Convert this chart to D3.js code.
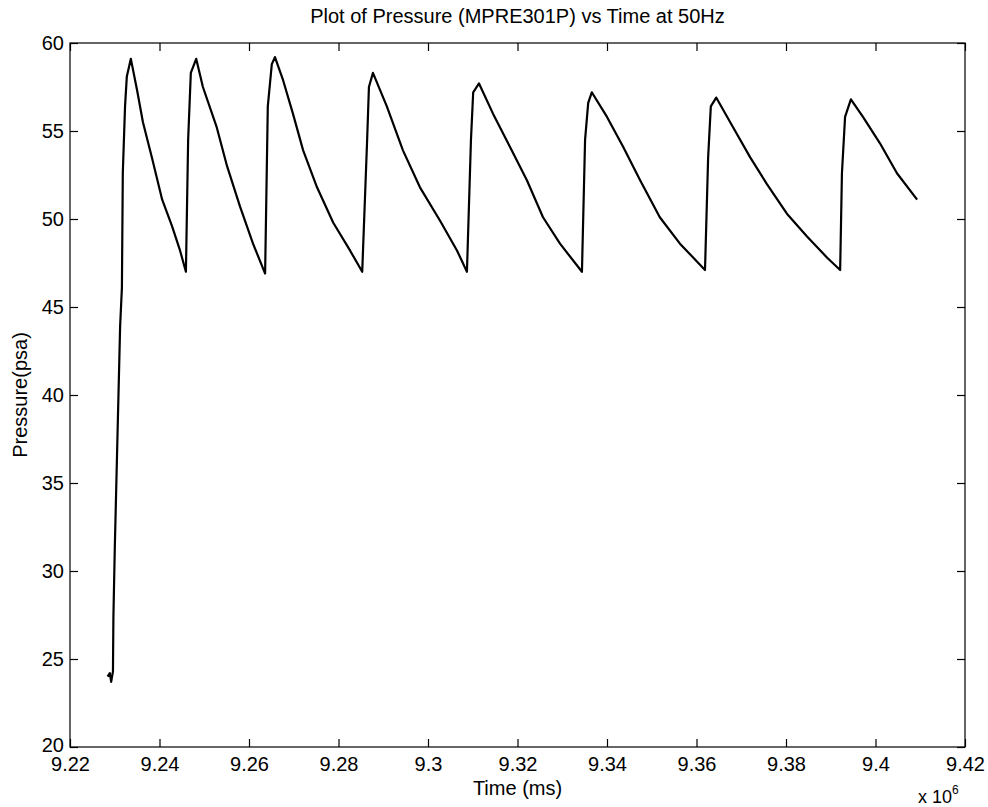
<!DOCTYPE html>
<html>
<head>
<meta charset="utf-8">
<script src="https://cdn.jsdelivr.net/npm/d3@7"></script>
<style>
  body { margin: 0; background: #fff; }
  svg text { font-family: "Liberation Sans", Arial, sans-serif; fill: #000; }
</style>
</head>
<body>
<svg id="chart" width="988" height="807"></svg>
<script>
// time in units of 10^6 ms, pressure in psa
const timeVals = [9.2284, 9.2289, 9.2292, 9.2296, 9.2297, 9.2300, 9.2312, 9.2316, 9.2318, 9.2323, 9.2327, 9.2336,
  9.2350, 9.2363, 9.2383, 9.2406, 9.2428, 9.2446, 9.2459,
  9.2464, 9.2470, 9.2482,
  9.2497, 9.2528, 9.2551, 9.2580, 9.2609, 9.2636,
  9.2642, 9.2651, 9.2658,
  9.2676, 9.2698, 9.2721, 9.2752, 9.2788, 9.2826, 9.2853,
  9.2864, 9.2868, 9.2877,
  9.2908, 9.2944, 9.2982, 9.3027, 9.3065, 9.3087,
  9.3096, 9.3101, 9.3114,
  9.3145, 9.3183, 9.3221, 9.3257, 9.3295, 9.3344,
  9.3351, 9.3358, 9.3366,
  9.3400, 9.3436, 9.3474, 9.3518, 9.3563, 9.3619,
  9.3626, 9.3632, 9.3644,
  9.3682, 9.3720, 9.3757, 9.3802, 9.3847, 9.3892, 9.3921,
  9.3925, 9.3932, 9.3945,
  9.3972, 9.4010, 9.4048, 9.4093]
const pressureVals = [24.0, 24.2, 23.7, 24.3, 27.4, 31.2, 43.9, 46.1, 52.6, 56.4, 58.1, 59.1,
  57.3, 55.5, 53.5, 51.1, 49.6, 48.2, 47.0,
  54.5, 58.3, 59.1,
  57.5, 55.2, 53.0, 50.7, 48.6, 46.9,
  56.4, 58.8, 59.2,
  57.9, 56.0, 53.9, 51.8, 49.8, 48.2, 47.0,
  54.5, 57.5, 58.3,
  56.4, 53.9, 51.8, 49.9, 48.2, 47.0,
  54.5, 57.2, 57.7,
  56.0, 54.1, 52.2, 50.1, 48.6, 47.0,
  54.5, 56.6, 57.2,
  55.8, 54.1, 52.2, 50.1, 48.6, 47.1,
  53.5, 56.4, 56.9,
  55.2, 53.5, 52.0, 50.3, 49.0, 47.8, 47.1,
  52.6, 55.8, 56.8,
  55.8, 54.3, 52.6, 51.1]

const xTicks = [9.22, 9.24, 9.26, 9.28, 9.3, 9.32, 9.34, 9.36, 9.38, 9.4, 9.42]
const yTicks = [20, 25, 30, 35, 40, 45, 50, 55, 60]

const titleText = "Plot of Pressure (MPRE301P) vs Time at 50Hz"
const xLabel = "Time (ms)"
const yLabel = "Pressure(psa)"

var svg = d3.select("#chart")
var m = { left: 70, right: 965, top: 43, bottom: 747 }

var x = d3.scaleLinear().domain([9.22, 9.42]).range([m.left, m.right])
var y = d3.scaleLinear().domain([20, 60]).range([m.bottom, m.top])

var data = timeVals.map((t, i) => ({ t: t, p: pressureVals[i] }))

// frame
svg.append("rect")
    .attr("x", m.left).attr("y", m.top)
    .attr("width", m.right - m.left).attr("height", m.bottom - m.top)
    .attr("fill", "none").attr("stroke", "#000").attr("stroke-width", 1.2)

// axes with inward ticks
var fmt = d => String(d)
svg.append("g")
    .attr("transform", "translate(0," + m.bottom + ")")
    .call(d3.axisBottom(x).tickValues(xTicks).tickFormat(fmt).tickSizeInner(-8).tickSizeOuter(0).tickPadding(9))
    .call(g => g.select(".domain").remove())
    .call(g => g.selectAll("text").attr("font-size", 20).attr("dy", "0.75em"))
svg.append("g")
    .attr("transform", "translate(0," + m.top + ")")
    .call(d3.axisTop(x).tickValues(xTicks).tickFormat("").tickSizeInner(-8).tickSizeOuter(0))
    .call(g => g.select(".domain").remove())
svg.append("g")
    .attr("transform", "translate(" + m.left + ",0)")
    .call(d3.axisLeft(y).tickValues(yTicks).tickFormat(fmt).tickSizeInner(-8).tickSizeOuter(0).tickPadding(6))
    .call(g => g.select(".domain").remove())
    .call(g => g.selectAll("text").attr("font-size", 20)
      .attr("dy", d => d === 20 ? "0.2em" : "0.32em"))
svg.append("g")
    .attr("transform", "translate(" + m.right + ",0)")
    .call(d3.axisRight(y).tickValues(yTicks).tickFormat("").tickSizeInner(-8).tickSizeOuter(0))
    .call(g => g.select(".domain").remove())

svg.selectAll(".tick line").attr("stroke", "#000").attr("stroke-width", 1.2)

// the pressure trace
var line = d3.line()
    .x(d => x(d.t))
    .y(d => y(d.p))
svg.append("path")
    .datum(data)
    .attr("d", line)
    .attr("fill", "none")
    .attr("stroke", "#000")
    .attr("stroke-width", 2.2)
    .attr("stroke-linejoin", "round")

// labels
svg.append("text")
    .attr("x", (m.left + m.right) / 2).attr("y", 23)
    .attr("text-anchor", "middle").attr("font-size", 20)
    .text(titleText)
svg.append("text")
    .attr("x", (m.left + m.right) / 2).attr("y", 795)
    .attr("text-anchor", "middle").attr("font-size", 20)
    .text(xLabel)
svg.append("text")
    .attr("transform", "translate(27," + ((m.top + m.bottom) / 2) + ") rotate(-90)")
    .attr("text-anchor", "middle").attr("font-size", 20)
    .text(yLabel)
var exp = svg.append("text")
    .attr("x", 918).attr("y", 803).attr("font-size", 18)
exp.append("tspan").text("x 10")
exp.append("tspan").attr("dy", -9).attr("font-size", 12).text("6")
</script>
</body>
</html>
